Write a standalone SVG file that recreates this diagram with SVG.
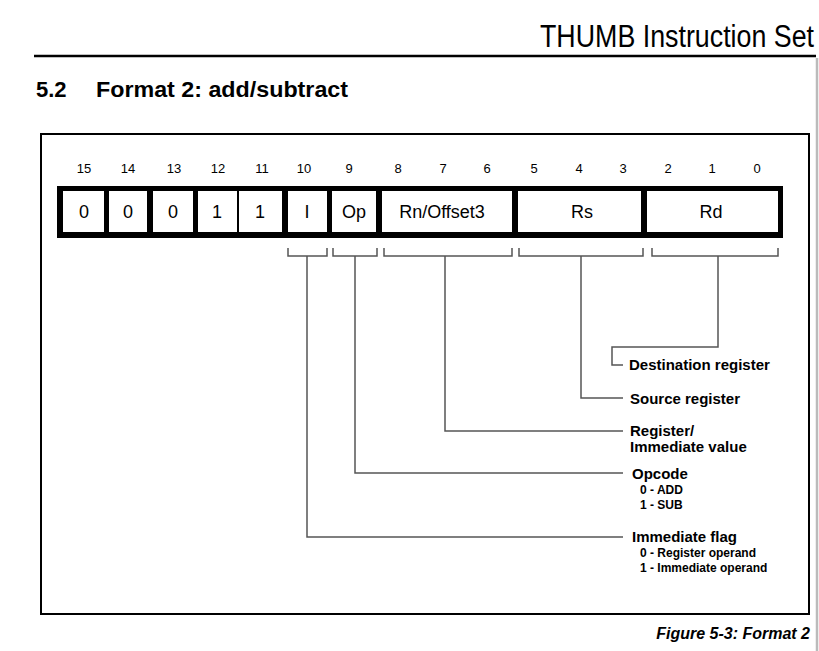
<svg xmlns="http://www.w3.org/2000/svg" width="819" height="651" viewBox="0 0 819 651">
<style>
text{font-family:"Liberation Sans",Arial,sans-serif;fill:#000}
.bit{font-size:13px;text-anchor:middle}
.cell{font-size:18px;text-anchor:middle}
.lbl{font-size:15px;font-weight:bold}
.sub{font-size:12px;font-weight:bold}
.conn{fill:none;stroke:#555;stroke-width:1.5}
.cellbg{fill:#fff}
</style>
<rect width="819" height="651" fill="#fff"/>
<line x1="817" y1="58" x2="817" y2="651" stroke="#bbb" stroke-width="2.5"/>
<text x="814" y="47" font-size="31" text-anchor="end" textLength="274" lengthAdjust="spacingAndGlyphs">THUMB Instruction Set</text>
<line x1="34" y1="56" x2="816" y2="56" stroke="#000" stroke-width="2.5"/>
<text x="36" y="97" font-size="22" font-weight="bold">5.2</text>
<text x="96" y="97" font-size="22" font-weight="bold" textLength="252" lengthAdjust="spacingAndGlyphs">Format 2: add/subtract</text>
<rect x="41" y="134" width="768" height="480" fill="none" stroke="#000" stroke-width="2"/>
<g id="bitnumbers">
<text class="bit" x="84" y="173">15</text>
<text class="bit" x="128" y="173">14</text>
<text class="bit" x="174" y="173">13</text>
<text class="bit" x="218" y="173">12</text>
<text class="bit" x="262" y="173">11</text>
<text class="bit" x="304" y="173">10</text>
<text class="bit" x="349" y="173">9</text>
<text class="bit" x="398" y="173">8</text>
<text class="bit" x="443" y="173">7</text>
<text class="bit" x="487" y="173">6</text>
<text class="bit" x="534" y="173">5</text>
<text class="bit" x="579" y="173">4</text>
<text class="bit" x="623" y="173">3</text>
<text class="bit" x="668" y="173">2</text>
<text class="bit" x="712" y="173">1</text>
<text class="bit" x="757" y="173">0</text>
</g>
<g id="register">
<rect x="57" y="186" width="726" height="52" fill="#000"/>
<g id="cell15"><rect class="cellbg" x="63" y="191" width="41" height="41"/><text class="cell" x="84" y="218">0</text></g>
<g id="cell14"><rect class="cellbg" x="109" y="191" width="38" height="41"/><text class="cell" x="128" y="218">0</text></g>
<g id="cell13"><rect class="cellbg" x="153" y="191" width="40" height="41"/><text class="cell" x="173" y="218">0</text></g>
<g id="cell12"><rect class="cellbg" x="198" y="191" width="39" height="41"/><text class="cell" x="217" y="218">1</text></g>
<g id="cell11"><rect class="cellbg" x="239" y="191" width="43" height="41"/><text class="cell" x="260" y="218">1</text></g>
<g id="cellI"><rect class="cellbg" x="288" y="191" width="39" height="41"/><text class="cell" x="307" y="218">I</text></g>
<g id="cellOp"><rect class="cellbg" x="332" y="191" width="44" height="41"/><text class="cell" x="354" y="218">Op</text></g>
<g id="cellRn"><rect class="cellbg" x="382" y="191" width="130" height="41"/><text class="cell" x="442" y="218">Rn/Offset3</text></g>
<g id="cellRs"><rect class="cellbg" x="518" y="191" width="123" height="41"/><text class="cell" x="582" y="218">Rs</text></g>
<g id="cellRd"><rect class="cellbg" x="647" y="191" width="131" height="41"/><text class="cell" x="711" y="218">Rd</text></g>
</g>
<g id="connectors">
<path class="conn" d="M288,248 V256 H327 V248 M307,256 V537 H623"/>
<path class="conn" d="M333,248 V256 H377 V248 M355,256 V473 H623"/>
<path class="conn" d="M384,248 V256 H512 V248 M445,256 V431 H623"/>
<path class="conn" d="M519,248 V256 H643 V248 M581,256 V398 H623"/>
<path class="conn" d="M652,248 V256 H778 V248 M718,256 V347 H612 V365 H623"/>
</g>
<g id="label-rd"><text class="lbl" x="629" y="370">Destination register</text></g>
<g id="label-rs"><text class="lbl" x="630" y="404">Source register</text></g>
<g id="label-rn"><text class="lbl" x="630" y="436">Register/</text><text class="lbl" x="630" y="452">Immediate value</text></g>
<g id="label-op"><text class="lbl" x="632" y="479">Opcode</text><text class="sub" x="640" y="494">0 - ADD</text><text class="sub" x="640" y="509">1 - SUB</text></g>
<g id="label-i"><text class="lbl" x="632" y="542">Immediate flag</text><text class="sub" x="640" y="557">0 - Register operand</text><text class="sub" x="640" y="572">1 - Immediate operand</text></g>
<text x="810" y="639" font-size="16" font-weight="bold" font-style="italic" text-anchor="end">Figure 5-3: Format 2</text>
</svg>
